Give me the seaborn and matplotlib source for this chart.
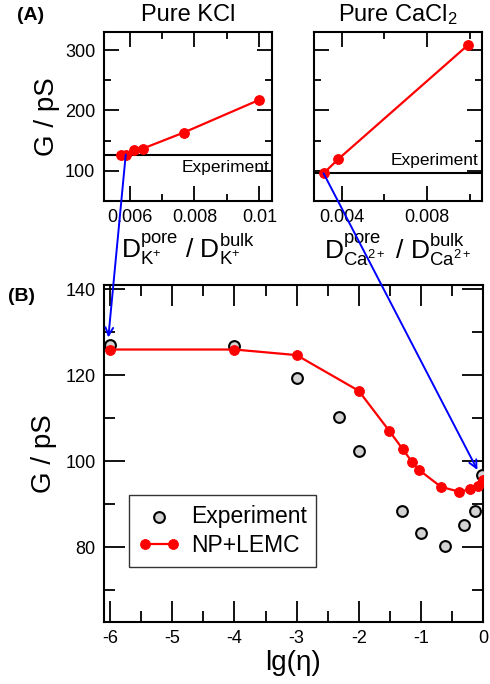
import matplotlib
matplotlib.use("Agg")
import matplotlib.pyplot as plt
import numpy as np
import seaborn as sns
from matplotlib.patches import ConnectionPatch
from matplotlib.ticker import MultipleLocator

# Panel A, pure KCl: conductance vs. pore/bulk diffusion ratio of K+
kcl_d = [0.00572, 0.00588, 0.00615, 0.00641, 0.00767, 0.01000]
kcl_g = [126.5, 126.5, 134.5, 136.7, 163.3, 217.7]
kcl_exp = 126.0

# Panel A, pure CaCl2
cacl_d = [0.00315, 0.00383, 0.00995]
cacl_g = [95.5, 118.8, 309.5]
cacl_exp = 96.7

# Panel B: G vs lg(eta)
exp_lg = [-6.0, -4.0, -3.0, -2.31, -2.0, -1.30, -1.0, -0.61, -0.30, -0.13, -0.01]
exp_g = [127.0, 126.8, 119.3, 110.4, 102.5, 88.4, 83.3, 80.2, 85.2, 88.5, 96.8]
sim_lg = [-6.0, -4.0, -3.0, -2.0, -1.51, -1.29, -1.14, -1.03, -0.68, -0.38, -0.21, -0.08, 0.0]
sim_g = [126.0, 126.0, 124.7, 116.4, 107.1, 102.8, 99.8, 98.0, 94.1, 92.9, 93.5, 94.3, 95.6]

sns.set_theme(style="ticks")
plt.rcParams["font.family"] = ["Liberation Sans", "DejaVu Sans"]
plt.rcParams["mathtext.default"] = "regular"
plt.rcParams["text.color"] = "black"
plt.rcParams["axes.labelcolor"] = "black"
plt.rcParams["xtick.color"] = "black"
plt.rcParams["ytick.color"] = "black"


def style_axes(ax, major=11, minor=5):
    for s in ax.spines.values():
        s.set_linewidth(1.5)
        s.set_color("black")
    ax.tick_params(which="both", direction="in", top=True, right=True,
                   width=1.3, colors="black", labelcolor="black")
    ax.tick_params(which="major", length=major, labelsize=13, pad=6)
    ax.tick_params(which="minor", length=minor)


fig = plt.figure(figsize=(4.9, 6.84), dpi=100)
ax1 = fig.add_axes([0.2116, 0.7066, 0.3441, 0.2462])
ax2 = fig.add_axes([0.6408, 0.7066, 0.3435, 0.2462])
ax3 = fig.add_axes([0.2122, 0.0911, 0.7735, 0.4922])

red = "#ff0000"

# KCl
sns.lineplot(x=kcl_d, y=kcl_g, ax=ax1, color=red, marker="o", markersize=7,
             markeredgecolor=red, linewidth=1.6, sort=False, legend=False)
ax1.axhline(kcl_exp, color="black", lw=1.5, zorder=1)
ax1.text(0.0103, kcl_exp - 8, "Experiment", ha="right", va="top", fontsize=12.5)
ax1.set_xlim(0.0052, 0.0104)
ax1.set_ylim(50, 330)
ax1.xaxis.set_major_locator(MultipleLocator(0.002))
ax1.xaxis.set_minor_locator(MultipleLocator(0.001))
ax1.yaxis.set_major_locator(MultipleLocator(100))
ax1.yaxis.set_minor_locator(MultipleLocator(50))
ax1.xaxis.set_major_formatter(plt.FuncFormatter(lambda v, p: f"{v:g}"))
ax1.set_title("Pure KCl", fontsize=17, pad=8)
ax1.set_ylabel("G / pS", fontsize=20, labelpad=4)
ax1.set_xlabel(r"$D^{pore}_{K^{+}}$ / $D^{bulk}_{K^{+}}$", fontsize=19, labelpad=4)
style_axes(ax1)

# CaCl2
sns.lineplot(x=cacl_d, y=cacl_g, ax=ax2, color=red, marker="o", markersize=7,
             markeredgecolor=red, linewidth=1.6, sort=False, legend=False)
ax2.axhline(cacl_exp, color="black", lw=1.5, zorder=1)
ax2.text(0.0104, cacl_exp + 8, "Experiment", ha="right", va="bottom", fontsize=12.5)
ax2.set_xlim(0.0027, 0.0106)
ax2.set_ylim(50, 330)
ax2.xaxis.set_major_locator(MultipleLocator(0.004))
ax2.xaxis.set_minor_locator(MultipleLocator(0.002))
ax2.yaxis.set_major_locator(MultipleLocator(100))
ax2.yaxis.set_minor_locator(MultipleLocator(50))
ax2.xaxis.set_major_formatter(plt.FuncFormatter(lambda v, p: f"{v:g}"))
ax2.set_yticklabels([])
ax2.set_title("Pure CaCl$_2$", fontsize=17, pad=8)
ax2.set_ylabel("")
ax2.set_xlabel(r"$D^{pore}_{Ca^{2+}}$ / $D^{bulk}_{Ca^{2+}}$", fontsize=19, labelpad=4)
style_axes(ax2)

# Panel B
sns.scatterplot(x=exp_lg, y=exp_g, ax=ax3, s=60, color="#d3d3d3",
                edgecolor="black", linewidth=1.5, label="Experiment", zorder=3)
sns.lineplot(x=sim_lg, y=sim_g, ax=ax3, color=red, marker="o", markersize=7,
             markeredgecolor=red, linewidth=1.6, sort=False, label="NP+LEMC", zorder=4)
ax3.set_xlim(-6.1, 0.0)
ax3.set_ylim(62.7, 141)
ax3.xaxis.set_major_locator(MultipleLocator(1))
ax3.xaxis.set_minor_locator(MultipleLocator(0.5))
ax3.yaxis.set_major_locator(MultipleLocator(20))
ax3.yaxis.set_minor_locator(MultipleLocator(10))
ax3.xaxis.set_major_formatter(plt.FuncFormatter(lambda v, p: f"{v:g}"))
ax3.set_xlabel("lg(η)", fontsize=20, labelpad=2)
ax3.set_ylabel("G / pS", fontsize=20, labelpad=6)
style_axes(ax3, major=15, minor=8)
leg = ax3.legend(loc="upper left", bbox_to_anchor=(0.066, 0.375), fontsize=16.5,
                 numpoints=2, scatterpoints=1, frameon=True, fancybox=False,
                 borderaxespad=0, handlelength=1.8, labelspacing=0.3,
                 handletextpad=0.5, borderpad=0.4)
leg.get_frame().set_edgecolor("black")
leg.get_frame().set_linewidth(1.0)

# blue arrows linking panel A points to panel B
for axA, xyA, xyB in [(ax1, (kcl_d[1], kcl_g[1]), (-6.03, 128.8)),
                      (ax2, (cacl_d[0], cacl_g[0]), (-0.09, 98.0))]:
    con = ConnectionPatch(xyA=xyA, coordsA=axA.transData, xyB=xyB,
                          coordsB=ax3.transData, arrowstyle="->", color="blue",
                          lw=1.4, mutation_scale=14, zorder=10)
    fig.add_artist(con)

fig.text(0.034, 0.978, "(A)", fontsize=14, fontweight="bold", va="center", ha="left")
fig.text(0.016, 0.567, "(B)", fontsize=14, fontweight="bold", va="center", ha="left")

fig.savefig("out.png", dpi=100)
plt.close(fig)
